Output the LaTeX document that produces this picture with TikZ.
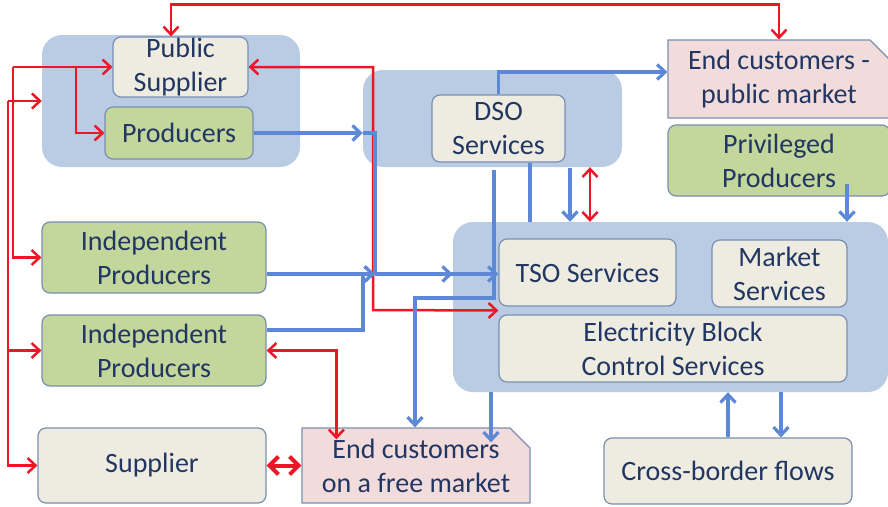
\documentclass[tikz,border=0pt]{standalone}
\usepackage{fontspec}
\setmainfont{Carlito}
\usetikzlibrary{calc,arrows.meta,shapes.misc}

\definecolor{grpblue}{RGB}{185,204,228}
\definecolor{boxline}{RGB}{122,142,176}
\definecolor{svcbeige}{RGB}{238,236,225}
\definecolor{prodgreen}{RGB}{195,214,155}
\definecolor{custpink}{RGB}{242,220,219}
\definecolor{txtblue}{RGB}{33,54,98}
\definecolor{flowblue}{RGB}{92,136,214}
\definecolor{flowred}{RGB}{238,22,38}

\begin{document}
\begin{tikzpicture}[x=1pt,y=-1pt,>={Straight Barb[length=8pt,width=15pt]},
  group/.style={rounded corners=20pt,fill=grpblue,inner sep=0pt},
  box/.style={rounded corners=8pt,draw=boxline,line width=1.2pt,align=center,inner sep=0pt,
    text=txtblue,font=\fontsize{28}{34}\selectfont},
  service/.style={box,fill=svcbeige},
  producer/.style={box,fill=prodgreen},
  customer/.style={box,rounded corners=0pt,fill=custpink,chamfered rectangle,
    chamfered rectangle corners=north east,chamfered rectangle sep=10pt},
  redflow/.style={draw=flowred,line width=2.5pt},
  blueflow/.style={draw=flowblue,line width=3.2pt}]
\useasboundingbox (0,0) rectangle (888,506);

% Groups
\node (grpsup) at (171,101) [group,minimum width=258pt,minimum height=132pt] {};
\node (grpdso) at (492.5,118.5) [group,minimum width=259pt,minimum height=97pt] {};
\node (grptso) at (670.5,307) [group,minimum width=435pt,minimum height=170pt] {};

% Boxes
\node (pubsup) at (180.5,67) [service,minimum width=135pt,minimum height=60pt] {Public\\Supplier};
\node (prod) at (179,133) [producer,minimum width=148pt,minimum height=52pt] {Producers};
\node (dso) at (498.5,128.5) [service,minimum width=133pt,minimum height=67pt] {DSO\\Services};
\node (endpub) at (779,79) [customer,minimum width=222pt,minimum height=76pt] {End customers -\\public market};
\node (priv) at (779,160.5) [producer,minimum width=222pt,minimum height=71pt] {Privileged\\Producers};
\node (indep1) at (154,257.5) [producer,minimum width=224pt,minimum height=71pt] {Independent\\Producers};
\node (indep2) at (154,350.5) [producer,minimum width=224pt,minimum height=71pt] {Independent\\Producers};
\node (supplier) at (152,465.5) [service,minimum width=228pt,minimum height=75pt] {Supplier};
\node (endfree) at (416,465.5) [customer,minimum width=228pt,minimum height=75pt] {End customers\\on a free market};
\node (tso) at (587.5,272.5) [service,minimum width=177pt,minimum height=67pt] {TSO Services};
\node (market) at (779.5,273.5) [service,minimum width=135pt,minimum height=67pt] {Market\\Services};
\node (ebcs) at (673,348.5) [service,minimum width=348pt,minimum height=67pt] {Electricity Block\\Control Services};
\node (cross) at (728,471) [service,minimum width=248pt,minimum height=66pt] {Cross-border flows};

% Red links
\coordinate (busa) at (13,67);
\coordinate (busb) at (8,101);
\coordinate (rtso) at ($(tso.south west)!.5!(ebcs.north west)$);
\draw[redflow,<->] ([xshift=-9.5pt]pubsup.north) -- ++(0,-32) -| (endpub.north);
\draw[redflow,->] (busa) -- (pubsup.west);
\draw[redflow,->] (busa -| 76,0) |- (prod.west);
\draw[redflow,->] (busa) |- (indep1.west);
\draw[redflow,->] (busb) -- (grpsup.west);
\draw[redflow,->] (busb) |- (indep2.west);
\draw[redflow,->] (busb) |- (supplier.west);
\draw[redflow,<->] (pubsup.east) -| (373,310) -- (rtso);
\draw[redflow,<->] (grpdso.south -| 590,0) -- (grptso.north -| 590,0);
\draw[redflow,<->] (indep2.east) -| ($(endfree.north west)+(35,12)$);
\draw[redflow,line width=4pt,<->,>={Straight Barb[length=9pt,width=18pt]}] (supplier.east) -- (endfree.west);

% Blue flows
\coordinate (bjoin) at (375,274);
\coordinate (dsoleg) at (494,170);
\coordinate (dsodown) at (570,168);
\draw[blueflow,->] (prod.east) -- (grpdso.west |- prod.east);
\draw[blueflow] (grpdso.west |- prod.east) -| (bjoin);
\draw[blueflow,->] (indep1.east |- bjoin) -- (bjoin);
\draw[blueflow,->] (indep2.east |- 0,330) -| (363,274) -- (bjoin);
\draw[blueflow,->] (bjoin) -- (grptso.west |- bjoin);
\draw[blueflow,->] (bjoin) -- (tso.west |- bjoin);
\draw[blueflow,->] (dso.north) |- ([yshift=7pt]endpub.west);
\draw[blueflow,->] (dsoleg) |- (415,298) -- (endfree.north -| 415,0);
\draw[blueflow] (dso.south -| 530,0) -- (grptso.north -| 530,0);
\draw[blueflow,->] (dsodown) -- (grptso.north -| dsodown);
\draw[blueflow,->] ([xshift=68pt,yshift=13pt]priv.south) -- (grptso.north -| 847,0);
\draw[blueflow,->] (grptso.south -| 491,0) -- ($(endfree.north -| 491,0)+(0,15)$);
\draw[blueflow,->] (cross.north -| 728,0) -- (grptso.south -| 728,0);
\draw[blueflow,->] (grptso.south -| 781,0) -- (cross.north -| 781,0);
\end{tikzpicture}
\end{document}
